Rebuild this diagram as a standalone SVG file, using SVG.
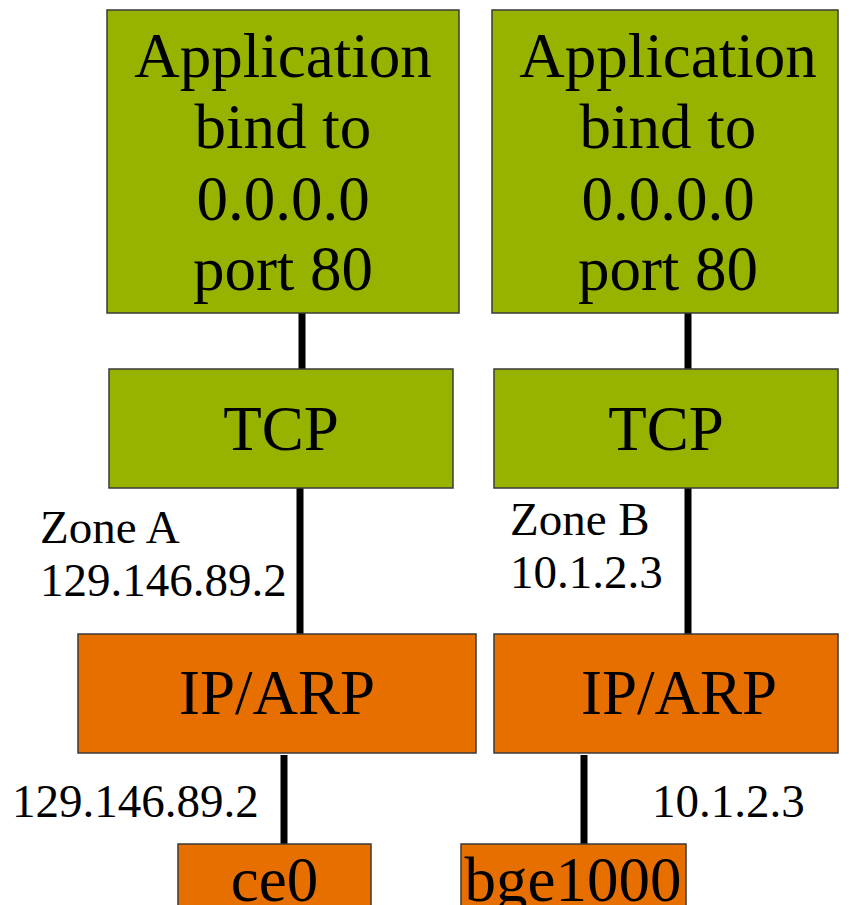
<svg xmlns="http://www.w3.org/2000/svg" width="852" height="905" viewBox="0 0 852 905">
  <style>
    .green { fill: #97b300; stroke: #3a3a3a; stroke-width: 1.5; }
    .orange { fill: #e66f00; stroke: #3a3a3a; stroke-width: 1.5; }
    .big { font-family: "Liberation Serif", "Times New Roman", serif; font-size: 63px; fill: #000; text-anchor: middle; }
    .lbl { font-family: "Liberation Serif", "Times New Roman", serif; font-size: 47px; fill: #000; }
    .link { stroke: #000; stroke-width: 7; fill: none; }
  </style>
  <rect width="852" height="905" fill="#ffffff"/>

  <!-- connectors -->
  <g id="connectors">
    <line class="link" x1="302" y1="313" x2="302" y2="370"/>
    <line class="link" x1="300" y1="488" x2="300" y2="634"/>
    <line class="link" x1="284" y1="755" x2="284" y2="845"/>
    <line class="link" x1="688" y1="313" x2="688" y2="370"/>
    <line class="link" x1="688" y1="488" x2="688" y2="634"/>
    <line class="link" x1="584" y1="755" x2="584" y2="845"/>
  </g>

  <!-- Zone A stack -->
  <g id="app-a">
    <rect class="green" x="107" y="10" width="352" height="303"/>
    <text class="big" x="283" y="77">Application</text>
    <text class="big" x="283" y="148">bind to</text>
    <text class="big" x="283" y="220">0.0.0.0</text>
    <text class="big" x="283" y="290">port 80</text>
  </g>
  <g id="tcp-a">
    <rect class="green" x="109" y="369" width="344" height="119"/>
    <text class="big" x="281" y="450">TCP</text>
  </g>
  <g id="ip-a">
    <rect class="orange" x="78" y="634" width="398" height="119"/>
    <text class="big" x="277" y="714">IP/ARP</text>
  </g>
  <g id="nic-a">
    <rect class="orange" x="178" y="844" width="193" height="70"/>
    <text class="big" x="274.5" y="901">ce0</text>
  </g>

  <!-- Zone B stack -->
  <g id="app-b">
    <rect class="green" x="492" y="10" width="346" height="303"/>
    <text class="big" x="668" y="77">Application</text>
    <text class="big" x="668" y="148">bind to</text>
    <text class="big" x="668" y="220">0.0.0.0</text>
    <text class="big" x="668" y="290">port 80</text>
  </g>
  <g id="tcp-b">
    <rect class="green" x="494" y="369" width="344" height="119"/>
    <text class="big" x="666" y="450">TCP</text>
  </g>
  <g id="ip-b">
    <rect class="orange" x="494" y="634" width="344" height="119"/>
    <text class="big" x="679" y="714">IP/ARP</text>
  </g>
  <g id="nic-b">
    <rect class="orange" x="461" y="844" width="225" height="70"/>
    <text class="big" x="573" y="901">bge1000</text>
  </g>

  <!-- address labels -->
  <g id="labels">
    <text class="lbl" x="40" y="543">Zone A</text>
    <text class="lbl" x="40" y="596">129.146.89.2</text>
    <text class="lbl" x="510" y="535">Zone B</text>
    <text class="lbl" x="510" y="588">10.1.2.3</text>
    <text class="lbl" x="12" y="817">129.146.89.2</text>
    <text class="lbl" x="652" y="817">10.1.2.3</text>
  </g>
</svg>
